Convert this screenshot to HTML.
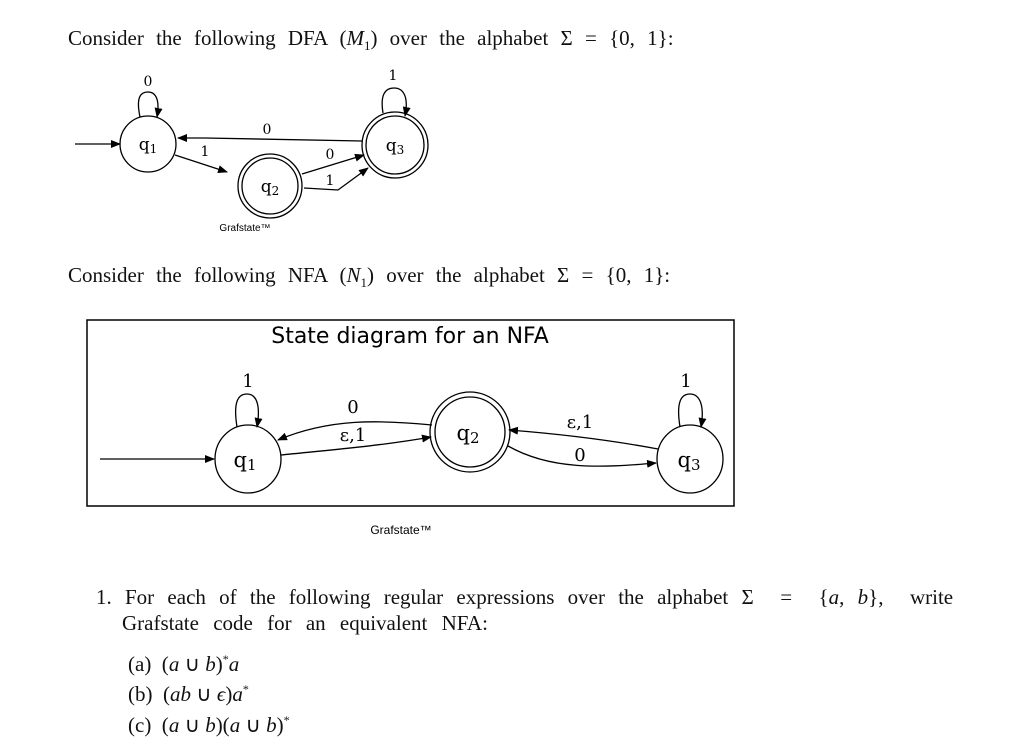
<!DOCTYPE html>
<html><head><style>
body{margin:0;width:1024px;height:749px;background:#fff;position:relative;overflow:hidden;font-family:"Liberation Serif",serif;color:#111}
.t{position:absolute;font-size:21px;white-space:nowrap}
svg{position:absolute;left:0;top:0}
</style></head><body>
<div class="t" style="left:68px;top:26px;word-spacing:7px">Consider the following DFA (<i>M</i><sub style="font-size:13px">1</sub>) over the alphabet Σ = {0, 1}:</div>
<div class="t" style="left:68px;top:263px;word-spacing:7px">Consider the following NFA (<i>N</i><sub style="font-size:13px">1</sub>) over the alphabet Σ = {0, 1}:</div>
<div class="t" style="left:96px;top:585px;word-spacing:8px">1. For each of the following regular expressions over the alphabet Σ &nbsp;= &nbsp;{<i>a</i>, <i>b</i>}, &nbsp;write</div>
<div class="t" style="left:122px;top:611px;word-spacing:9px">Grafstate code for an equivalent NFA:</div>
<div class="t" style="left:128px;top:652px">(a) &nbsp;(<i>a</i> ∪ <i>b</i>)<sup style="font-size:12px">*</sup><i>a</i></div>
<div class="t" style="left:128px;top:682px">(b) &nbsp;(<i>ab</i> ∪ <i>ϵ</i>)<i>a</i><sup style="font-size:12px">*</sup></div>
<div class="t" style="left:128px;top:713px">(c) &nbsp;(<i>a</i> ∪ <i>b</i>)(<i>a</i> ∪ <i>b</i>)<sup style="font-size:12px">*</sup></div>
<svg width="1024" height="749" font-family="DejaVu Serif, serif" fill="none" stroke="#000" stroke-width="1.3">
<defs><marker id="a" markerWidth="10" markerHeight="8" refX="9" refY="4" orient="auto" markerUnits="userSpaceOnUse"><path d="M0,0L10,4L0,8z" fill="#000" stroke="none"/></marker></defs>
<!-- DFA -->
<circle cx="148" cy="144" r="28"/>
<circle cx="270" cy="186" r="32"/><circle cx="270" cy="186" r="28"/>
<circle cx="395" cy="145" r="33"/><circle cx="395" cy="145" r="29"/>
<line x1="75" y1="144" x2="120" y2="144" marker-end="url(#a)"/>
<path d="M140,117 C136,98 140,92 148,92 C156,92 160,100 157,117" marker-end="url(#a)"/>
<path d="M383,113 C380,95 385,88 394,88 C403,88 409,96 405,116" marker-end="url(#a)"/>
<path d="M362,141 L205,138 L178,138" marker-end="url(#a)"/>
<path d="M175,155 L227,172" marker-end="url(#a)"/>
<path d="M302,174 L364,155" marker-end="url(#a)"/>
<path d="M304,188 L338,190 L368,168" marker-end="url(#a)"/>
<g fill="#000" stroke="none" font-size="14" text-anchor="middle">
<text x="148" y="86">0</text><text x="393" y="80">1</text><text x="267" y="134">0</text>
<text x="205" y="156">1</text><text x="330" y="159">0</text><text x="330" y="185">1</text>
<text x="148" y="150" font-size="17">q<tspan font-size="12" dy="3">1</tspan></text>
<text x="270" y="192" font-size="17">q<tspan font-size="12" dy="3">2</tspan></text>
<text x="395" y="151" font-size="17">q<tspan font-size="12" dy="3">3</tspan></text>
<text x="245" y="231" font-size="10" font-family="Liberation Sans, sans-serif">Grafstate™</text>
</g>
<!-- NFA -->
<rect x="87" y="320" width="647" height="186" stroke-width="1.5"/>
<ellipse cx="248" cy="459" rx="33" ry="34"/>
<circle cx="470" cy="432" r="40"/><circle cx="470" cy="432" r="35"/>
<ellipse cx="690" cy="459" rx="33" ry="34"/>
<line x1="100" y1="459" x2="214" y2="459" marker-end="url(#a)"/>
<path d="M237,427 C233,402 238,394 247,394 C256,394 261,404 257,427" marker-end="url(#a)"/>
<path d="M680,427 C676,402 681,394 690,394 C699,394 705,404 701,427" marker-end="url(#a)"/>
<path d="M432,425 C380,420 330,418 278,440" marker-end="url(#a)"/>
<path d="M281,455 C330,450 380,446 431,437" marker-end="url(#a)"/>
<path d="M658,449 C610,440 560,434 509,430" marker-end="url(#a)"/>
<path d="M508,446 C550,470 600,468 656,463" marker-end="url(#a)"/>
<g fill="#000" stroke="none" font-size="18" text-anchor="middle">
<text x="410" y="343" font-size="22" font-family="DejaVu Sans, sans-serif">State diagram for an NFA</text>
<text x="248" y="387">1</text><text x="686" y="387">1</text>
<text x="353" y="413">0</text><text x="353" y="441">ε,1</text>
<text x="580" y="428">ε,1</text><text x="580" y="461">0</text>
<text x="245" y="467" font-size="21">q<tspan font-size="15" dy="3">1</tspan></text>
<text x="468" y="440" font-size="21">q<tspan font-size="15" dy="3">2</tspan></text>
<text x="689" y="467" font-size="21">q<tspan font-size="15" dy="3">3</tspan></text>
<text x="401" y="534" font-size="12" font-family="Liberation Sans, sans-serif">Grafstate™</text>
</g>
</svg>
</body></html>
